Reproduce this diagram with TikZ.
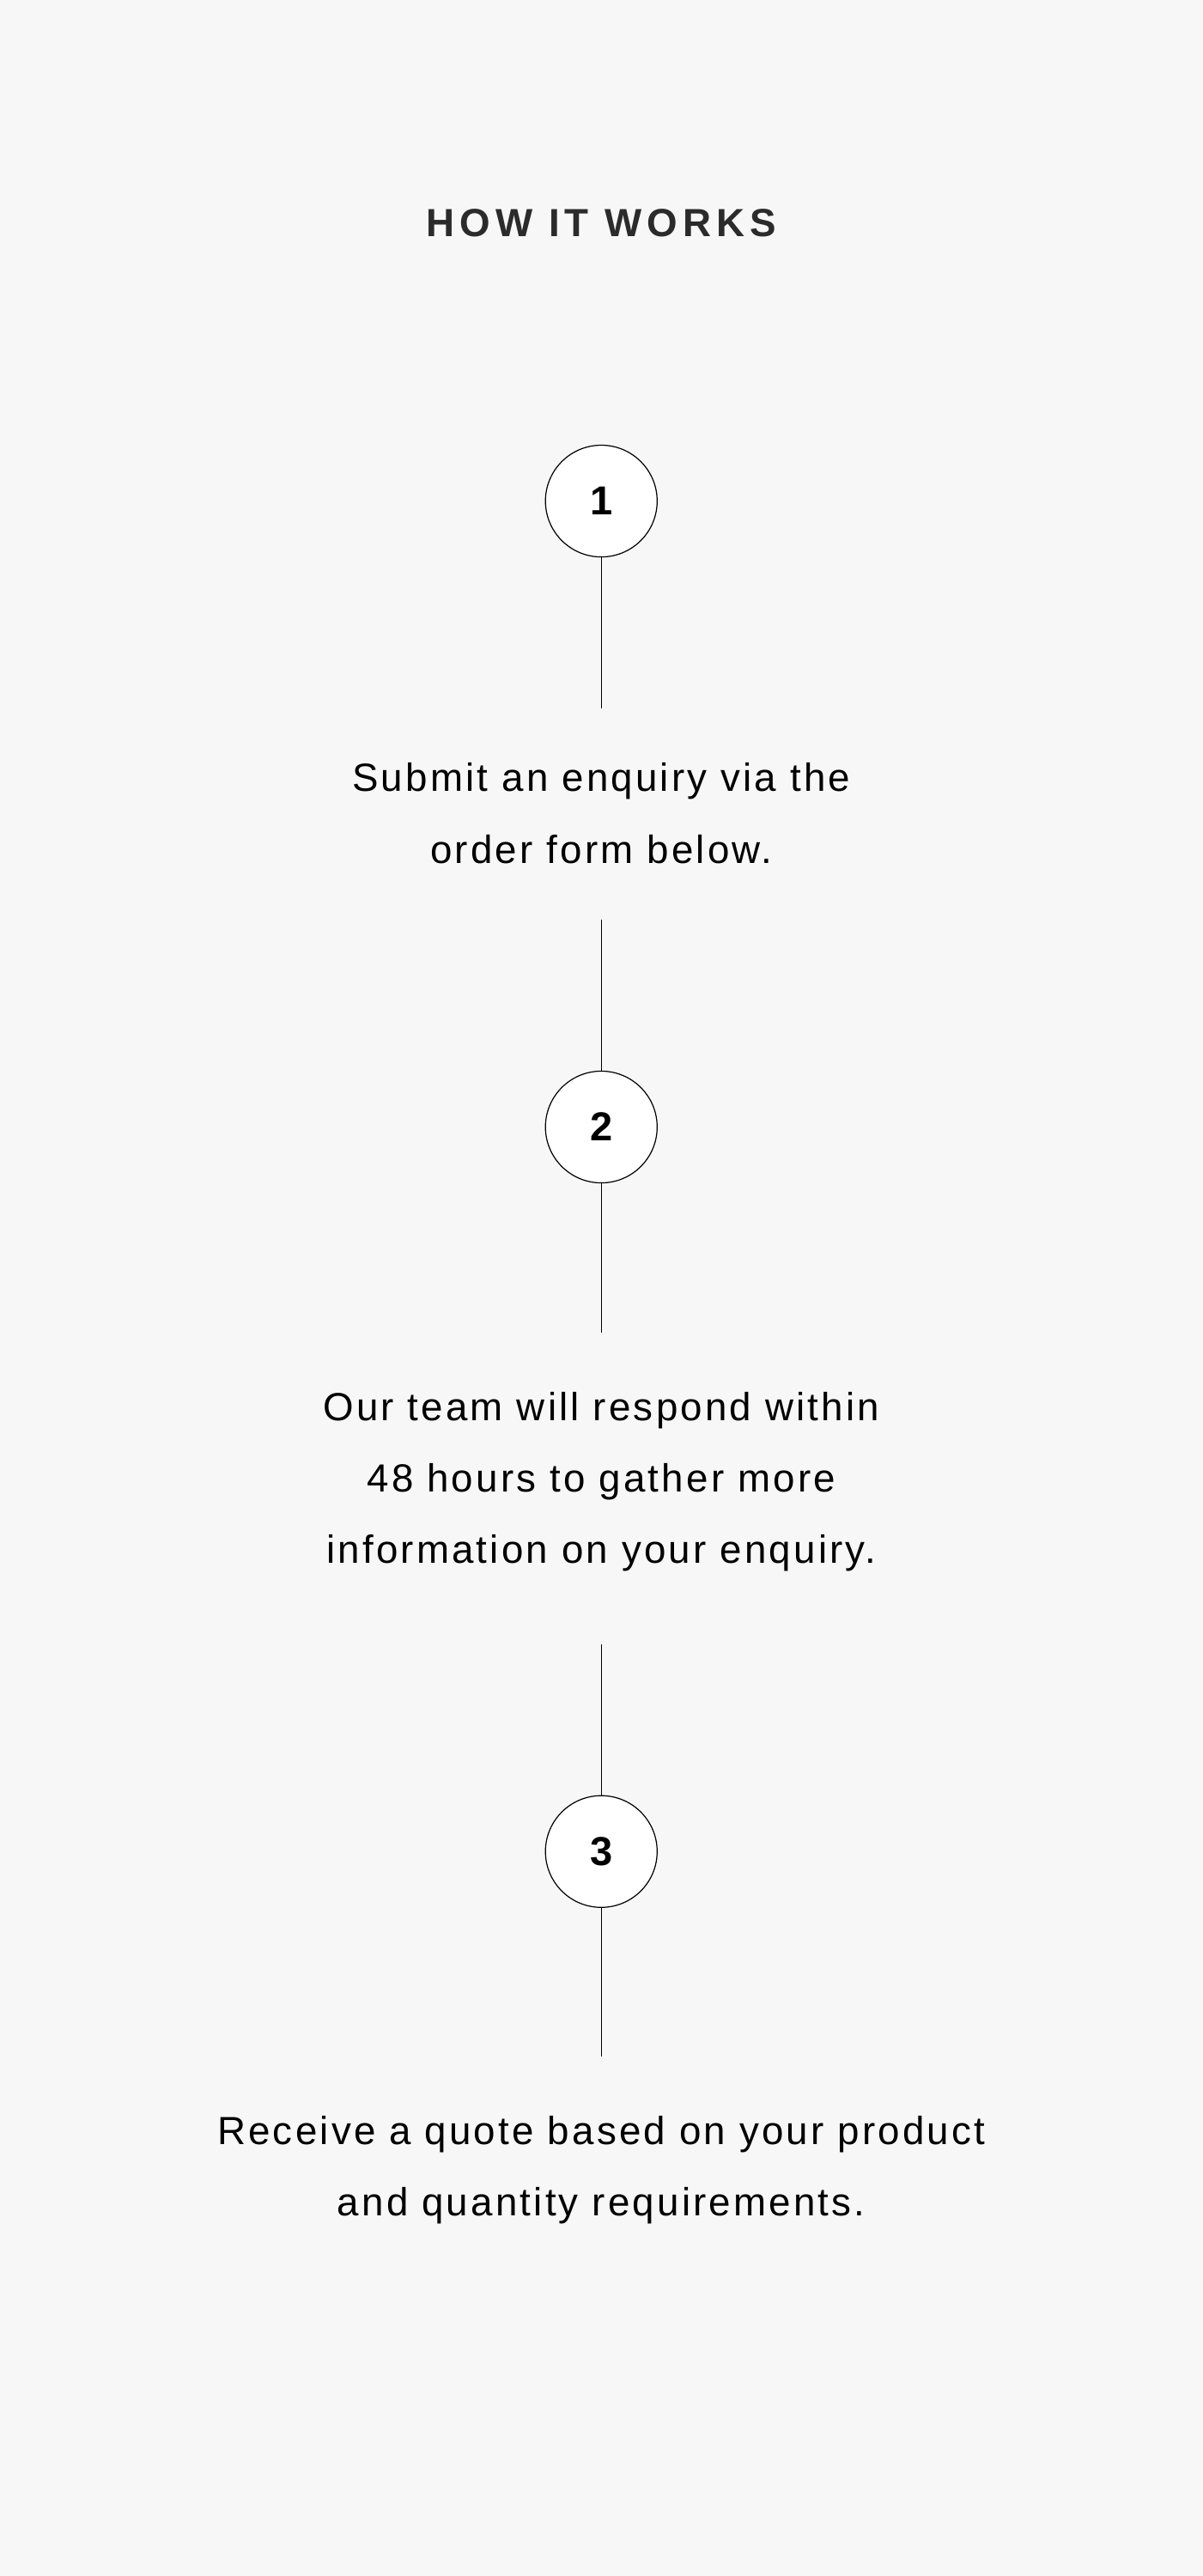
\documentclass[tikz,border=0pt]{standalone}
\usepackage{fontspec}
\setmainfont{Liberation Sans}
\definecolor{bgcol}{HTML}{F7F7F7}
\definecolor{titlecol}{HTML}{2B2B2B}
\tikzset{
  stepnum/.style={circle, draw=black, line width=0.9pt, fill=white, minimum size=3.4cm, inner sep=0pt, font=\fontsize{35}{40}\selectfont\bfseries},
  steptext/.style={align=center, font=\fontsize{34}{62}\selectfont\addfontfeature{LetterSpace=7}},
  stem/.style={line width=0.9pt}
}
\begin{document}
\begin{tikzpicture}[x=0.05cm,y=-0.05cm]
  \fill[bgcol] (0,0) rectangle (732,1568);
  \useasboundingbox (0,0) rectangle (732,1568);
  \node[text=titlecol, font=\fontsize{34}{40}\selectfont\bfseries\addfontfeature{LetterSpace=13}] (title) at (366,136) {HOW IT WORKS};

  \node[stepnum] (one) at (366,305) {1};
  \coordinate (oneend) at (366,431);
  \node[steptext] (txtone) at (366,495) {Submit an enquiry via the\\order form below.};
  \coordinate (twostart) at (366,560);
  \node[stepnum] (two) at (366,686) {2};
  \coordinate (twoend) at (366,811);
  \node[steptext] (txttwo) at (366,902) {Our team will respond within\\48 hours to gather more\\information on your enquiry.};
  \coordinate (threestart) at (366,1001);
  \node[stepnum] (three) at (366,1127) {3};
  \coordinate (threeend) at (366,1252);
  \node[steptext] (txtthree) at (366,1321) {Receive a quote based on your product\\and quantity requirements.};

  \draw[stem] (one) -- (oneend);
  \draw[stem] (twostart) -- (two) -- (twoend);
  \draw[stem] (threestart) -- (three) -- (threeend);
\end{tikzpicture}
\end{document}
